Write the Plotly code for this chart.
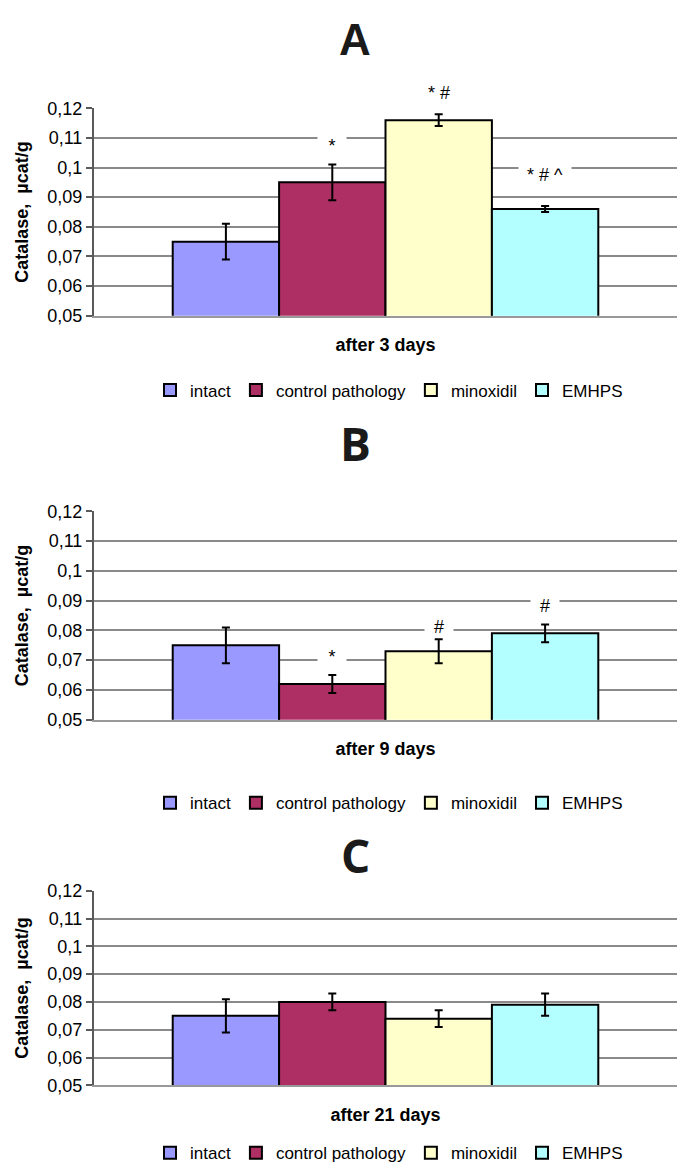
import plotly.graph_objects as go

# ---------------- data ----------------
groups = ["intact", "control pathology", "minoxidil", "EMHPS"]
periods = ["after 3 days", "after 9 days", "after 21 days"]
panel_letters = ["A", "B", "C"]

day3_mean = [0.075, 0.095, 0.116, 0.086]
day3_err = [0.006, 0.006, 0.002, 0.001]
day9_mean = [0.075, 0.062, 0.073, 0.079]
day9_err = [0.006, 0.003, 0.004, 0.003]
day21_mean = [0.075, 0.080, 0.074, 0.079]
day21_err = [0.006, 0.003, 0.003, 0.004]

day3_marks = ["", "*", "* #", "* # ^"]
day9_marks = ["", "*", "#", "#"]
day21_marks = ["", "", "", ""]

ytick_vals = [0.05, 0.06, 0.07, 0.08, 0.09, 0.10, 0.11, 0.12]
ytick_text = ["0,05", "0,06", "0,07", "0,08", "0,09", "0,1", "0,11", "0,12"]
y_title = "Catalase,  µcat/g"

means = [day3_mean, day9_mean, day21_mean]
errs = [day3_err, day9_err, day21_err]
marks = [day3_marks, day9_marks, day21_marks]

# ---------------- style / layout ----------------
colors = ["#9999FF", "#AE2F63", "#FFFFCC", "#B3FFFF"]
W, H = 677, 1174
plot_left = 94
panel_px = [(100, 311), (510, 722), (896, 1094)]
title_y_px = [30, 441, 860]
legend_y_px = [387, 807, 1163]
mark_shift = [[0, 19, 21, 31], [0, 18, 12, 18], [0, 0, 0, 0]]
FONT = "Liberation Sans, Arial, sans-serif"


def py(p):
    return 1 - p / H


fig = go.Figure()
annotations = []
layout = dict(
    width=W, height=H,
    margin=dict(l=0, r=0, t=0, b=0),
    paper_bgcolor="white", plot_bgcolor="white",
    barmode="group", bargap=0.27, bargroupgap=0,
    font=dict(family=FONT, size=18, color="black"),
)

for i in range(3):
    ax = "" if i == 0 else str(i + 1)
    leg = "legend" if i == 0 else f"legend{i + 1}"
    for g in range(4):
        fig.add_trace(go.Bar(
            x=[periods[i]], y=[means[i][g]], name=groups[g],
            marker=dict(color=colors[g], line=dict(color="black", width=2)),
            error_y=dict(type="data", array=[errs[i][g]], color="black",
                         thickness=2, width=4),
            xaxis="x" + ax, yaxis="y" + ax, legend=leg, showlegend=True,
        ))
        txt = marks[i][g]
        if txt:
            nsp = txt.count(" ")
            w = 20 + 8 * (len(txt) - nsp) + 4 * nsp
            annotations.append(dict(
                x=periods[i], y=means[i][g] + errs[i][g],
                xref="x" + ax, yref="y" + ax,
                xshift=(g - 1.5) * 106.4,
                yshift=mark_shift[i][g], yanchor="middle",
                text=txt, showarrow=False, bgcolor="white",
                width=w, borderpad=0,
                font=dict(family=FONT, size=18, color="black"),
            ))
    top, bot = panel_px[i]
    layout["xaxis" + ax] = dict(
        domain=[plot_left / W, 1.0], anchor="y" + ax, type="category",
        tickvals=[periods[i]], ticktext=[f"<b>{periods[i]}</b>"],
        ticks="", ticklabelstandoff=12,
        tickfont=dict(family=FONT, size=18, color="black"),
        showline=True, linecolor="#999999", linewidth=2,
        showgrid=False, zeroline=False, fixedrange=True,
    )
    layout["yaxis" + ax] = dict(
        domain=[py(bot), py(top)], anchor="x" + ax,
        range=[0.05, 0.12 + 1e-9],
        tickvals=ytick_vals, ticktext=ytick_text,
        ticks="outside", ticklen=6, tickwidth=1.5, tickcolor="#5a5a5a",
        tickfont=dict(family=FONT, size=18, color="black"),
        showline=True, linecolor="#5a5a5a", linewidth=2,
        showgrid=True, gridcolor="#8a8a8a", gridwidth=1.5,
        zeroline=False, fixedrange=True,
        title=dict(text=f"<b>{y_title}</b>", standoff=14,
                   font=dict(family=FONT, size=18, color="black")),
    )
    layout[leg] = dict(
        orientation="h", x=389 / W, xanchor="center",
        y=py(legend_y_px[i]), yanchor="middle",
        font=dict(family=FONT, size=17, color="black"),
        bgcolor="rgba(0,0,0,0)", itemclick=False, itemdoubleclick=False,
        tracegroupgap=0,
    )
    fam = FONT if i == 0 else "Open Sans, sans-serif"
    annotations.append(dict(
        x=355 / W, y=py(title_y_px[i]), xref="paper", yref="paper",
        text=f"<b>{panel_letters[i]}</b>", showarrow=False,
        xanchor="center", yanchor="middle",
        font=dict(family=fam, size=44 if i == 0 else 46, color="#1a1a1a"),
    ))

layout["annotations"] = annotations
fig.update_layout(**layout)
fig.write_html("out.html")
